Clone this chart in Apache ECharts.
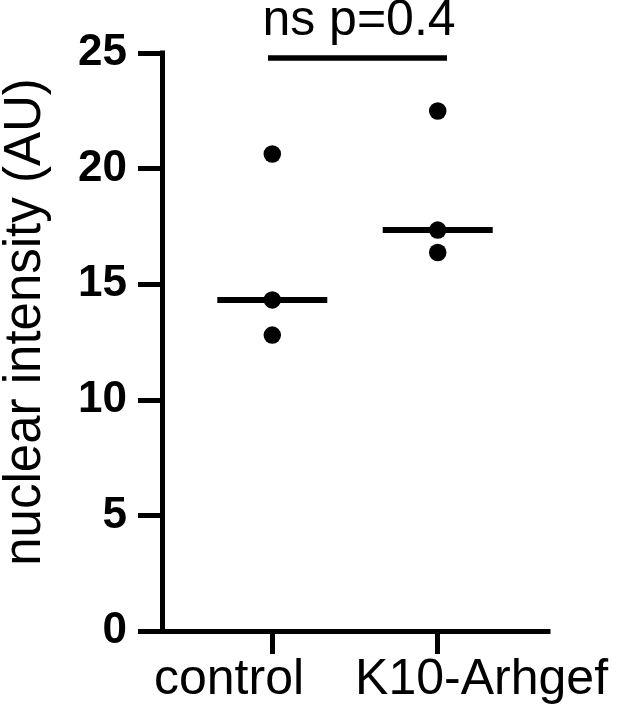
<!DOCTYPE html>
<html>
<head>
<meta charset="utf-8">
<script src="https://cdn.jsdelivr.net/npm/echarts@6/dist/echarts.min.js"></script>
<style>
  html, body { margin: 0; padding: 0; background: #ffffff; }
  #chart { width: 617px; height: 711px; }
</style>
</head>
<body>
<div id="chart"></div>
<script>
// ---- data ----
const categories = ['control', 'K10-Arhgef'];
const controlValues = [20.63, 14.32, 12.8];
const k10Values = [22.49, 17.34, 16.37];
const medians = [14.32, 17.34];
const yTicks = [0, 5, 10, 15, 20, 25];
const sigText = 'ns p=0.4';
const sigBarX = [0.974, 2.056];
const sigBarY = 24.78;
const yTitle = 'nuclear intensity (AU)';

const FONT = '"Liberation Sans", Arial, Helvetica, sans-serif';

const chart = echarts.init(document.getElementById('chart'), null, { renderer: 'canvas' });

const option = {
  animation: false,
  backgroundColor: '#ffffff',
  grid: { left: 162, top: 53, right: 69, bottom: 80, containLabel: false },
  xAxis: {
    type: 'value',
    min: 1 / 3,
    max: 8 / 3,
    splitLine: { show: false },
    axisLine: { show: true, onZero: false, lineStyle: { color: '#000', width: 5, cap: 'square' } },
    axisTick: { show: true, customValues: [1, 2], length: 23, lineStyle: { color: '#000', width: 5 } },
    axisLabel: {
      show: true,
      customValues: [0.7384, 2.265],
      showMinLabel: true,
      showMaxLabel: true,
      margin: 24,
      color: '#000',
      fontSize: 50,
      lineHeight: 50,
      fontFamily: FONT,
      formatter: function (v) {
        return v < 1.5 ? categories[0] : categories[1];
      }
    }
  },
  yAxis: {
    type: 'value',
    min: yTicks[0],
    max: yTicks[yTicks.length - 1],
    interval: 5,
    splitLine: { show: false },
    axisLine: { show: true, lineStyle: { color: '#000', width: 5, cap: 'square' } },
    axisTick: { show: true, length: 24, lineStyle: { color: '#000', width: 5 } },
    axisLabel: {
      margin: 35,
      color: '#000',
      fontSize: 44,
      fontWeight: 'bold',
      fontFamily: FONT
    }
  },
  graphic: [
    {
      type: 'text',
      x: 359, y: 21,
      style: { text: sigText, fontSize: 50, fontFamily: FONT, fill: '#000', align: 'center', verticalAlign: 'middle' }
    },
    {
      type: 'text',
      x: 26, y: 322,
      rotation: Math.PI / 2,
      style: { text: yTitle, fontSize: 51, fontFamily: FONT, fill: '#000', align: 'center', verticalAlign: 'middle' }
    }
  ],
  series: [
    {
      name: 'median',
      type: 'scatter',
      symbol: 'rect',
      symbolSize: [110, 6],
      itemStyle: { color: '#000', opacity: 1 },
      data: medians.map(function (m, i) { return [i + 1, m]; }),
      z: 2
    },
    {
      name: categories[0],
      type: 'scatter',
      symbol: 'circle',
      symbolSize: 17.5,
      itemStyle: { color: '#000', opacity: 1 },
      data: controlValues.map(function (v) { return [1, v]; }),
      z: 3
    },
    {
      name: categories[1],
      type: 'scatter',
      symbol: 'circle',
      symbolSize: 17.5,
      itemStyle: { color: '#000', opacity: 1 },
      data: k10Values.map(function (v) { return [2, v]; }),
      z: 3
    },
    {
      name: 'significance',
      type: 'line',
      symbol: 'none',
      lineStyle: { color: '#000', width: 5.5 },
      data: sigBarX.map(function (x) { return [x, sigBarY]; }),
      z: 2
    }
  ]
};

chart.setOption(option);
</script>
</body>
</html>
